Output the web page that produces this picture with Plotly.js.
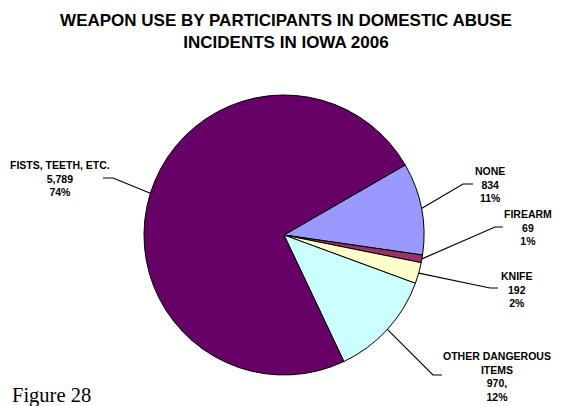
<!DOCTYPE html>
<html>
<head>
<meta charset="utf-8">
<script src="https://cdn.plot.ly/plotly-3.0.1.min.js"></script>
<style>html,body{margin:0;padding:0;background:#fff;}#chart{width:568px;height:406px;}</style>
</head>
<body>
<div id="chart"></div>
<script>
// ---- data ----
const categories = ["NONE", "FIREARM", "KNIFE", "OTHER DANGEROUS ITEMS", "FISTS, TEETH, ETC."];
const labelText = ["NONE", "FIREARM", "KNIFE", "OTHER DANGEROUS<br>ITEMS", "FISTS, TEETH, ETC."];
const valueSuffix = ["", "", "", ",", ""];
const counts = [834, 69, 192, 970, 5789];
const colors = ["#9999FF", "#993366", "#FFFFCC", "#CCFFFF", "#660066"];

// ---- layout constants ----
const W = 568, H = 406;
const rotationDeg = 60;
const pieCx = 284, pieCy = 235, pieR = 140;
// label block centre and leader elbow/end (pixels)
const labelPos = [
  {tx: 490, ty: 185, ex: 463, ey: 184, hx: 473},
  {tx: 528, ty: 227, ex: 495, ey: 227, hx: 503},
  {tx: 517, ty: 289, ex: 490, ey: 288, hx: 498},
  {tx: 497, ty: 376, ex: 433, ey: 375, hx: 442},
  {tx: 60,  ty: 178.5, ex: 113, ey: 178, hx: 103}
];

const px = x => x / W;
const py = y => 1 - y / H;
const total = counts.reduce((a, b) => a + b, 0);

const shapes = [];
const annotations = [];
let cum = 0;
counts.forEach((v, i) => {
  const mid = (rotationDeg + (cum + v / 2) / total * 360) * Math.PI / 180;
  cum += v;
  const ax = pieCx + pieR * Math.sin(mid);
  const ay = pieCy - pieR * Math.cos(mid);
  const p = labelPos[i];
  shapes.push({
    type: 'path', xref: 'paper', yref: 'paper',
    path: `M ${px(ax)} ${py(ay)} L ${px(p.ex)} ${py(p.ey)} L ${px(p.hx)} ${py(p.ey)}`,
    line: {color: '#000', width: 1.2}
  });
  const pct = Math.round(v / total * 100);
  annotations.push({
    xref: 'paper', yref: 'paper', x: px(p.tx), y: py(p.ty),
    xanchor: 'center', yanchor: 'middle', showarrow: false, align: 'center',
    text: `<b>${labelText[i]}<br>${v.toLocaleString('en-US')}${valueSuffix[i]}<br>${pct}%</b>`,
    font: {family: 'Liberation Sans, Arial, sans-serif', size: 10.5, color: '#000'}
  });
});

annotations.push({
  xref: 'paper', yref: 'paper', x: px(10), y: py(395),
  xanchor: 'left', yanchor: 'middle', showarrow: false,
  text: 'Figure 28',
  font: {family: 'Liberation Serif, Times New Roman, serif', size: 20.5, color: '#000'}
});

const trace = {
  type: 'pie',
  labels: categories,
  values: counts,
  sort: false,
  direction: 'clockwise',
  rotation: rotationDeg,
  textinfo: 'none',
  hoverinfo: 'label+value+percent',
  marker: {colors: colors, line: {color: '#000', width: 1}},
  domain: {x: [px(pieCx - pieR), px(pieCx + pieR)], y: [py(pieCy + pieR), py(pieCy - pieR)]},
  showlegend: false
};

const layout = {
  width: W, height: H,
  margin: {l: 0, r: 0, t: 0, b: 0},
  paper_bgcolor: '#fff',
  title: {
    text: '<b>WEAPON USE BY PARTICIPANTS IN DOMESTIC ABUSE<br>INCIDENTS IN IOWA 2006</b>',
    font: {family: 'Liberation Sans, Arial, sans-serif', size: 17, color: '#000'},
    x: px(286), xanchor: 'center', xref: 'paper',
    y: py(26.3), yanchor: 'middle', yref: 'paper'
  },
  shapes: shapes,
  annotations: annotations,
  showlegend: false
};

Plotly.newPlot('chart', [trace], layout, {displayModeBar: false, staticPlot: true});
</script>
</body>
</html>
